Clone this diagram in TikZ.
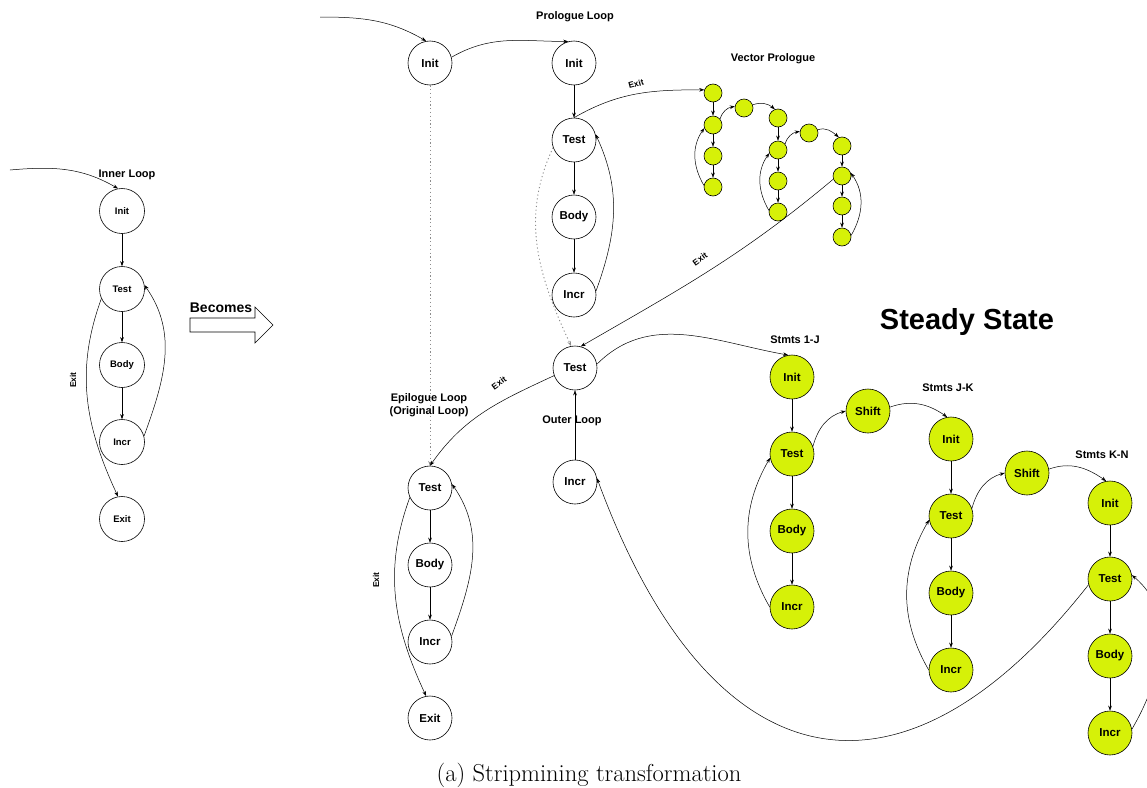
\documentclass[tikz,border=0pt]{standalone}
\usepackage{fontspec}
\setsansfont{Liberation Sans}
\usetikzlibrary{arrows.meta}
\definecolor{vecyellow}{RGB}{214,241,8}
\newcommand{\lab}[1]{\sffamily\bfseries\fontsize{#1}{#1}\selectfont}
\begin{document}
\begin{tikzpicture}[x=1pt,y=1pt,
  >={Stealth[length=5pt,width=3.6pt]},
  blk/.style={circle,draw,line width=0.6pt,minimum size=44pt,inner sep=0pt,font=\lab{11.5}},
  smallblk/.style={blk,minimum size=45pt,font=\lab{9.5}},
  yblk/.style={blk,fill=vecyellow},
  vblk/.style={circle,draw,line width=0.6pt,fill=vecyellow,minimum size=18pt,inner sep=0pt},
  edge/.style={->,line width=0.5pt},
  ghost/.style={->,line width=0.9pt,black!45,dash pattern=on 1.2pt off 2.6pt},
  tag/.style={font=\lab{11}},
  exitlab/.style={font=\lab{8.5},inner sep=1pt}]
\useasboundingbox (0,0) rectangle (1147,-787);

% ---------- original inner loop ----------
\node[tag] (innerlab) at (127,-175) {Inner Loop};
\node[smallblk] (L1) at (122,-211) {Init};
\node[smallblk] (L2) at (122,-289) {Test};
\node[smallblk] (L3) at (122,-365) {Body};
\node[smallblk] (L4) at (122,-442) {Incr};
\node[smallblk] (L5) at (122,-519) {Exit};
\coordinate (lin) at (10,-170);
\draw[edge] (lin) to[out=5,in=150] (L1.100);
\draw[edge] (L1) -- (L2);
\draw[edge] (L2) -- (L3);
\draw[edge] (L3) -- (L4);
\draw[edge] (L2.205) to[out=250,in=115] (L5.100);
\node[exitlab,rotate=90] (lexit) at (73,-380) {Exit};
\draw[edge] (L4.15) to[out=70,in=-55] (L2.10);

% ---------- "Becomes" block arrow ----------
\node[font=\lab{14}] (becomes) at (221,-308) {Becomes};
\draw[line width=0.6pt] (190,-318) -- (255,-318) -- (255,-307) -- (273,-325)
  -- (255,-343) -- (255,-332) -- (190,-332) -- cycle;

% ---------- outer init and prologue loop ----------
\node[tag] (prolab) at (575,-17) {Prologue Loop};
\node[blk] (M1) at (430,-63) {Init};
\node[blk] (P1) at (574,-63) {Init};
\node[blk] (P2) at (574,-140) {Test};
\node[blk] (P3) at (574,-217) {Body};
\node[blk] (P4) at (574,-295) {Incr};
\coordinate (min) at (320,-17);
\draw[edge] (min) to[out=0,in=150] (M1.100);
\draw[edge] (M1.15) to[out=30,in=180] (P1.105);
\draw[edge] (P1) -- (P2);
\draw[edge] (P2) -- (P3);
\draw[edge] (P3) -- (P4);
\draw[edge] (P4.10) to[out=70,in=-65] (P2.15);

% ---------- vector prologue ----------
\node[tag] (veclab) at (773,-59) {Vector Prologue};
\node[vblk] (V1) at (713,-93) {};
\node[vblk] (V2) at (713,-125) {};
\node[vblk] (V3) at (713,-156) {};
\node[vblk] (V4) at (713,-187) {};
\node[vblk] (VS1) at (744,-108) {};
\node[vblk] (W1) at (778,-118) {};
\node[vblk] (W2) at (778,-150) {};
\node[vblk] (W3) at (778,-181) {};
\node[vblk] (W4) at (778,-212) {};
\node[vblk] (VS2) at (809,-133) {};
\node[vblk] (X1) at (842,-146) {};
\node[vblk] (X2) at (842,-176) {};
\node[vblk] (X3) at (842,-206) {};
\node[vblk] (X4) at (842,-237) {};
\draw[edge] (P2.north) to[out=30,in=180] (V1.160);
\node[exitlab,rotate=15] (pexit) at (636,-84) {Exit};
\draw[edge] (V1) -- (V2);
\draw[edge] (V2) -- (V3);
\draw[edge] (V3) -- (V4);
\draw[edge] (V4.170) to[out=120,in=235] (V2.200);
\draw[edge] (V2.40) to[out=75,in=190] (VS1.170);
\draw[edge] (VS1.20) to[out=20,in=140] (W1.110);
\draw[edge] (W1) -- (W2);
\draw[edge] (W2) -- (W3);
\draw[edge] (W3) -- (W4);
\draw[edge] (W4.170) to[out=120,in=235] (W2.200);
\draw[edge] (W2.40) to[out=75,in=190] (VS2.170);
\draw[edge] (VS2.20) to[out=20,in=140] (X1.110);
\draw[edge] (X1) -- (X2);
\draw[edge] (X2) -- (X3);
\draw[edge] (X3) -- (X4);
\draw[edge] (X4.10) to[out=60,in=-55] (X2.20);

% ---------- outer loop ----------
\node[blk] (O1) at (575,-368) {Test};
\node[blk] (O2) at (575,-482) {Incr};
\node[tag] (outerlab) at (572,-421) {Outer Loop};
\draw[edge] (O2) -- (O1);
\draw[edge] (X2.200) to[out=220,in=30] (O1.75);
\node[exitlab,rotate=36] (vexit) at (700,-259) {Exit};
\draw[ghost] (P2.200) to[out=245,in=115] (O1.100);
\draw[ghost] (M1.south) -- (430,-466);

% ---------- epilogue loop ----------
\node[tag,align=center] (epilab) at (429,-405) {Epilogue Loop\\[2pt](Original Loop)};
\node[blk] (E1) at (430,-488) {Test};
\node[blk] (E2) at (430,-565) {Body};
\node[blk] (E3) at (430,-642) {Incr};
\node[blk] (E4) at (430,-718) {Exit};
\draw[edge] (O1.200) to[out=205,in=55] (E1.north);
\node[exitlab,rotate=36] (oexit) at (499,-383) {Exit};
\draw[edge] (E1) -- (E2);
\draw[edge] (E2) -- (E3);
\draw[edge] (E1.205) to[out=250,in=115] (E4.100);
\node[exitlab,rotate=90] (eexit) at (376,-580) {Exit};
\draw[edge] (E3.15) to[out=70,in=-55] (E1.10);

% ---------- steady state ----------
\node[font=\lab{29}] (steady) at (967,-322) {Steady State};
\node[tag] (s1lab) at (795,-340) {Stmts 1-J};
\node[tag] (s2lab) at (948,-388) {Stmts J-K};
\node[tag] (s3lab) at (1102,-455) {Stmts K-N};
\node[yblk] (Y1) at (792,-377) {Init};
\node[yblk] (Y2) at (792,-454) {Test};
\node[yblk] (Y3) at (792,-531) {Body};
\node[yblk] (Y4) at (792,-607) {Incr};
\node[yblk] (SH1) at (868,-411) {Shift};
\node[yblk] (Z1) at (951,-439) {Init};
\node[yblk] (Z2) at (951,-516) {Test};
\node[yblk] (Z3) at (951,-593) {Body};
\node[yblk] (Z4) at (951,-670) {Incr};
\node[yblk] (SH2) at (1027,-473) {Shift};
\node[yblk] (T1) at (1110,-503) {Init};
\node[yblk] (T2) at (1110,-579) {Test};
\node[yblk] (T3) at (1110,-656) {Body};
\node[yblk] (T4) at (1110,-733) {Incr};

\draw[edge] (O1.10) to[out=45,in=170] (Y1.100);
\draw[edge] (Y1) -- (Y2);
\draw[edge] (Y2) -- (Y3);
\draw[edge] (Y3) -- (Y4);
\draw[edge] (Y4.west) to[out=120,in=240] (Y2.190);
\draw[edge] (Y2.20) to[out=75,in=195] (SH1.west);
\draw[edge] (SH1.10) to[out=20,in=145] (Z1.100);
\draw[edge] (Z1) -- (Z2);
\draw[edge] (Z2) -- (Z3);
\draw[edge] (Z3) -- (Z4);
\draw[edge] (Z4.west) to[out=120,in=240] (Z2.190);
\draw[edge] (Z2.20) to[out=75,in=195] (SH2.west);
\draw[edge] (SH2.10) to[out=20,in=145] (T1.100);
\draw[edge] (T1) -- (T2);
\draw[edge] (T2) -- (T3);
\draw[edge] (T3) -- (T4);
\draw[edge] (T4.10) to[out=60,in=-40] (T2.10);
\draw[edge] (T2.195) .. controls (900,-825) and (710,-785) .. (O2.10);

% ---------- caption ----------
\node[font=\fontsize{24.5}{27}\selectfont] (caption) at (589,-775) {(a) Stripmining transformation};
\end{tikzpicture}
\end{document}
